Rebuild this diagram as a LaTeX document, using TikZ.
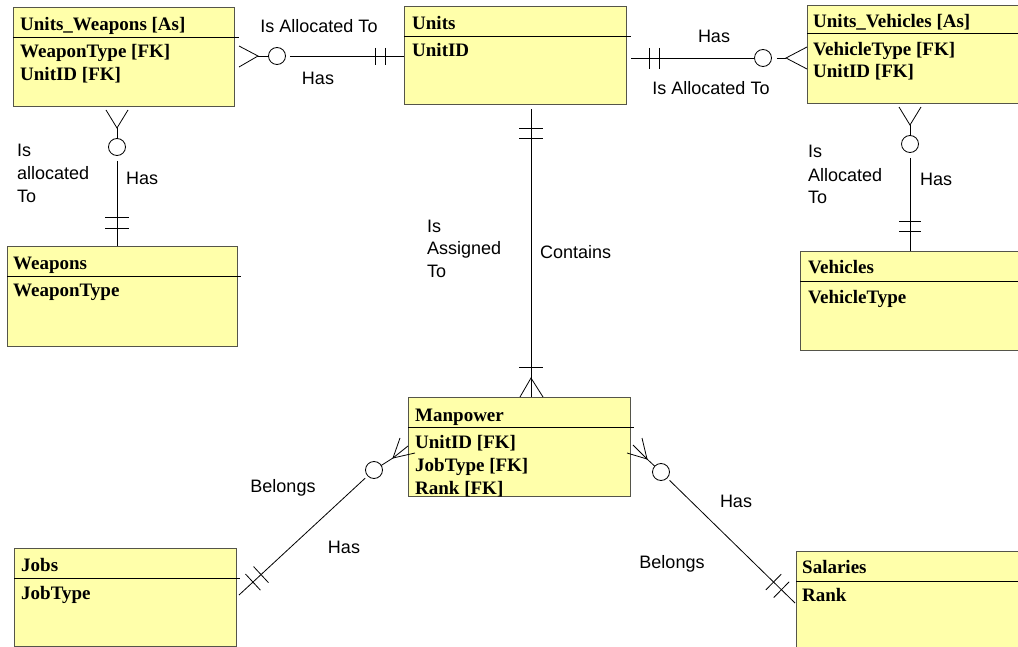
\documentclass[tikz,border=0pt]{standalone}
\usepackage{fontspec}
\setmainfont{Liberation Serif}
\newfontfamily\lblfont{Liberation Sans}
\usetikzlibrary{calc}
\definecolor{entfill}{HTML}{FFFFAA}
\definecolor{entdraw}{HTML}{55554A}
\begin{document}
\begin{tikzpicture}[x=1pt,y=-1pt,
  ent/.style={draw=entdraw,fill=entfill,line width=1pt,inner sep=0pt,anchor=north west},
  div/.style={draw=black,line width=0.9pt},
  ttl/.style={font=\bfseries\fontsize{19}{22}\selectfont,anchor=base west,inner sep=0pt},
  attr/.style={font=\bfseries\fontsize{19}{23}\selectfont,anchor=base west,inner sep=0pt},
  lbl/.style={font=\lblfont\fontsize{18}{23}\selectfont,inner sep=0pt,anchor=base},
  lblw/.style={font=\lblfont\fontsize{18}{23}\selectfont,inner sep=0pt,anchor=base west},
  conn/.style={draw=black,line width=0.8pt},
  opt/.style={draw=black,line width=0.8pt,circle,inner sep=0pt,minimum size=17pt}
]
\clip (0,0) rectangle (1018,647);
\fill[white] (0,0) rectangle (1018,647);

% ---------- entities ----------
\node[ent,minimum width=221pt,minimum height=99pt] (uw) at (13,7) {};
\draw[div] (uw.west |- 0,37) -- (239,37);
\node[ttl] (uwt) at (20,31) {Units\_Weapons [As]};
\node[attr] (uwa1) at (20,58) {WeaponType [FK]};
\node[attr] (uwa2) at (20,81) {UnitID [FK]};

\node[ent,minimum width=222pt,minimum height=98pt] (un) at (404,6) {};
\draw[div] (un.west |- 0,36) -- (631,36);
\node[ttl] (unt) at (412,30) {Units};
\node[attr] (una) at (412,57) {UnitID};

\node[ent,minimum width=230pt,minimum height=98pt] (uv) at (807,5) {};
\draw[div] (uv.west |- 0,33) -- (1040,33);
\node[ttl] (uvt) at (813,28) {Units\_Vehicles [As]};
\node[attr] (uva1) at (813,56) {VehicleType [FK]};
\node[attr] (uva2) at (813,78) {UnitID [FK]};

\node[ent,minimum width=230pt,minimum height=100pt] (we) at (7,246) {};
\draw[div] (we.west |- 0,276) -- (241,276);
\node[ttl] (wet) at (13,270) {Weapons};
\node[attr] (wea) at (13,297) {WeaponType};

\node[ent,minimum width=240pt,minimum height=99pt] (ve) at (800,251) {};
\draw[div] (ve.west |- 0,281) -- (1045,281);
\node[ttl] (vet) at (808,274) {Vehicles};
\node[attr] (vea) at (808,303) {VehicleType};

\node[ent,minimum width=222pt,minimum height=99pt] (mp) at (408,397) {};
\draw[div] (mp.west |- 0,427) -- (634,427);
\node[ttl] (mpt) at (415,421) {Manpower};
\node[attr] (mpa1) at (415,448) {UnitID [FK]};
\node[attr] (mpa2) at (415,471) {JobType [FK]};
\node[attr] (mpa3) at (415,494) {Rank [FK]};

\node[ent,minimum width=222pt,minimum height=98pt] (jo) at (14,548) {};
\draw[div] (jo.west |- 0,578) -- (240,578);
\node[ttl] (jot) at (21,571) {Jobs};
\node[attr] (joa) at (21,599) {JobType};

\node[ent,minimum width=240pt,minimum height=110pt] (sa) at (796,551) {};
\draw[div] (sa.west |- 0,581) -- (1045,581);
\node[ttl] (sat) at (802,573) {Salaries};
\node[attr] (saa) at (802,601) {Rank};

% ---------- Units_Weapons -- Units ----------
\node[opt] (o1) at (277,56) {};
\coordinate (f1) at (258,56);
\draw[conn] (239,46) -- (f1) -- (239,67);
\draw[conn] (f1) -- (o1.west);
\draw[conn] ($(o1.east)+(4,0)$) -- (un.west |- o1);
\draw[conn] (375,48) -- (375,65);
\draw[conn] (385,48) -- (385,65);
\node[lbl] (l1a) at (319,33) {Is Allocated To};
\node[lbl] (l1b) at (318,85) {Has};

% ---------- Units -- Units_Vehicles ----------
\node[opt] (o2) at (763,58) {};
\coordinate (f2) at (786,58);
\draw[conn] ($(un.east |- o2)+(4,0)$) -- (o2.west);
\draw[conn] ($(o2.east)+(5,0)$) -- (f2);
\draw[conn] (uv.west |- 0,47) -- (f2) -- (uv.west |- 0,69);
\draw[conn] (649,48) -- (649,69);
\draw[conn] (659,48) -- (659,69);
\node[lbl] (l2a) at (714,43) {Has};
\node[lbl] (l2b) at (711,95) {Is Allocated To};

% ---------- Units_Weapons -- Weapons ----------
\node[opt] (o3) at (117,147) {};
\coordinate (f3) at (117,128);
\draw[conn] (106,110) -- (f3) -- (128,110);
\draw[conn] (f3) -- (o3.north);
\draw[conn] ($(o3.south)+(0,5)$) -- (o3 |- we.north);
\draw[conn] (105,217) -- (129,217);
\draw[conn] (105,228) -- (129,228);
\node[lblw] (l3a) at (17,157) {Is};
\node[lblw] (l3b) at (17,180) {allocated};
\node[lblw] (l3c) at (17,203) {To};
\node[lblw] (l3d) at (126,185) {Has};

% ---------- Units_Vehicles -- Vehicles ----------
\node[opt] (o4) at (910,144) {};
\coordinate (f4) at (910,125);
\draw[conn] (899,107) -- (f4) -- (921,107);
\draw[conn] (f4) -- (o4.north);
\draw[conn] ($(o4.south)+(0,5)$) -- (o4 |- ve.north);
\draw[conn] (899,221) -- (921,221);
\draw[conn] (899,231) -- (921,231);
\node[lblw] (l4a) at (808,158) {Is};
\node[lblw] (l4b) at (808,182) {Allocated};
\node[lblw] (l4c) at (808,204) {To};
\node[lblw] (l4d) at (920,186) {Has};

% ---------- Units -- Manpower ----------
\coordinate (u5) at (531,109);
\coordinate (f5) at (531,378);
\coordinate (p5a) at (520,378);
\coordinate (p5b) at (543,378);
\draw[conn] (u5) -- (u5 |- mp.north);
\draw[conn] (519,128) -- (543,128);
\draw[conn] (519,138) -- (543,138);
\draw[conn] (519,367) -- (543,367);
\draw[conn] (p5a |- mp.north) -- (f5) -- (p5b |- mp.north);
\node[lblw] (l5a) at (427,233) {Is};
\node[lblw] (l5b) at (427,255) {Assigned};
\node[lblw] (l5c) at (427,278) {To};
\node[lblw] (l5d) at (540,259) {Contains};

% ---------- Manpower -- Jobs ----------
\node[opt] (o6) at (374,470) {};
\coordinate (j6) at (239,595);
\coordinate (f6) at (393,458);
\draw[conn] ($(o6)!12pt!(j6)$) -- (j6);
\coordinate (b6a) at ($(j6)!19pt!(o6)$);
\coordinate (b6b) at ($(j6)!30pt!(o6)$);
\draw[conn] ($(b6a)!11pt!90:(o6)$) -- ($(b6a)!11pt!-90:(o6)$);
\draw[conn] ($(b6b)!11pt!90:(o6)$) -- ($(b6b)!11pt!-90:(o6)$);
\draw[conn] ($(o6)!8.5pt!(f6)$) -- (f6);
\draw[conn] (400,438) -- (f6) -- (415,453);
\draw[conn] (f6) -- (408,446);
\node[lbl] (l6a) at (283,492) {Belongs};
\node[lbl] (l6b) at (344,553) {Has};

% ---------- Manpower -- Salaries ----------
\node[opt] (o7) at (661,472) {};
\coordinate (s7) at (795,603);
\coordinate (f7) at (647,459);
\draw[conn] ($(o7)!12pt!(s7)$) -- (s7);
\coordinate (b7a) at ($(s7)!19pt!(o7)$);
\coordinate (b7b) at ($(s7)!30pt!(o7)$);
\draw[conn] ($(b7a)!11pt!90:(o7)$) -- ($(b7a)!11pt!-90:(o7)$);
\draw[conn] ($(b7b)!11pt!90:(o7)$) -- ($(b7b)!11pt!-90:(o7)$);
\draw[conn] ($(o7)!8.5pt!(f7)$) -- (f7);
\draw[conn] (627,453) -- (f7) -- (642,438);
\draw[conn] (f7) -- (633,445);
\node[lbl] (l7a) at (736,507) {Has};
\node[lbl] (l7b) at (672,568) {Belongs};
\end{tikzpicture}
\end{document}
